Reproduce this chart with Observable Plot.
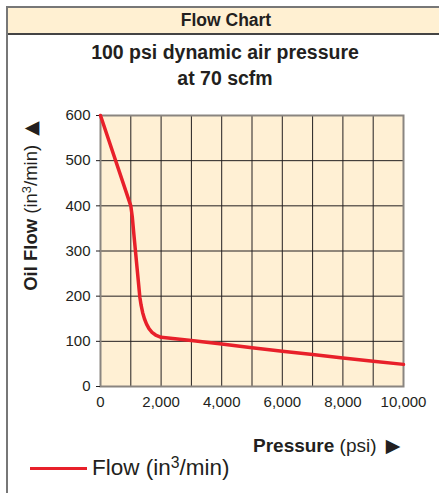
<!DOCTYPE html>
<html>
<head>
<meta charset="utf-8">
<script src="https://cdn.jsdelivr.net/npm/d3@7"></script>
<script src="https://cdn.jsdelivr.net/npm/@observablehq/plot@0.6"></script>
<style>
  html, body { margin: 0; padding: 0; background: #fff; }
  #wrap { position: relative; width: 439px; height: 493px; overflow: hidden; font-family: "Liberation Sans", Arial, Helvetica, sans-serif; color: #231f20; }
  #wrap svg { position: absolute; left: 0; top: 0; }
  .abs { position: absolute; white-space: nowrap; line-height: 1; }
  sup { font-size: 0.7em; vertical-align: 0.45em; line-height: 0; }
  .arr { font-family: "DejaVu Sans", sans-serif; margin-left: 4px; }
</style>
</head>
<body>
<div id="wrap">
  <div class="abs" style="left:6px;top:6px;width:2px;height:487px;background:#777;"></div>
  <div class="abs" style="left:8px;top:6px;width:431px;height:25px;background:#fff0d2;border-top:2px solid #777;border-bottom:2px solid #444;"></div>
  <div class="abs" id="hdr" style="left:0;width:452px;top:12px;text-align:center;font-weight:bold;font-size:17.5px;">Flow Chart</div>
  <div class="abs" id="t1" style="left:0;width:450px;top:43px;text-align:center;font-weight:bold;font-size:19.5px;">100 psi dynamic air pressure</div>
  <div class="abs" id="t2" style="left:0;width:450px;top:69px;text-align:center;font-weight:bold;font-size:19.5px;">at 70 scfm</div>
  <div class="abs" id="ylab" style="left:31px;top:206px;font-size:18.5px;transform:translate(-50%,-50%) rotate(-90deg);"><b>Oil Flow</b> (in<sup>3</sup>/min) <span class="arr" style="font-size:19px;">▲</span></div>
  <div class="abs" id="xlab" style="left:253px;top:436px;font-size:19px;"><b>Pressure</b> (psi) <span class="arr" style="font-size:19px;">▶</span></div>
  <div class="abs" style="left:30px;top:467px;width:57px;height:3px;background:#e8202a;"></div>
  <div class="abs" id="leg" style="left:92px;top:457px;font-size:22.5px;">Flow (in<sup>3</sup>/min)</div>
</div>
<script>
const pressure = [0, 1000, 1050, 1100, 1200, 1300, 1340, 1390, 1450, 1520, 1600, 1700, 1820, 2000, 3000, 4000, 5000, 6000, 7000, 8000, 9000, 10000];
const flow =     [600, 400, 375, 338, 267, 197, 180, 164, 150, 138, 128, 120, 114, 109, 102, 94, 86, 78, 71, 63, 56, 49];
const xTicks = [0, 2000, 4000, 6000, 8000, 10000];
const xGrid = [1000, 2000, 3000, 4000, 5000, 6000, 7000, 8000, 9000];
const yTicks = [0, 100, 200, 300, 400, 500, 600];
const yGrid = [100, 200, 300, 400, 500];

const data = pressure.map((p, i) => ({pressure: p, flow: flow[i]}));

const chart = Plot.plot({
  width: 439,
  height: 493,
  marginLeft: 100,
  marginRight: 36,
  marginTop: 115,
  marginBottom: 107,
  style: {background: "transparent", fontFamily: "'Liberation Sans', Arial, sans-serif", fontSize: "15px", color: "#231f20"},
  x: {domain: [0, 10000]},
  y: {domain: [0, 600]},
  marks: [
    Plot.frame({fill: "#fff0d4"}),
    Plot.gridX(xGrid, {stroke: "#231f20", strokeOpacity: 1, strokeWidth: 1}),
    Plot.gridY(yGrid, {stroke: "#231f20", strokeOpacity: 1, strokeWidth: 1}),
    Plot.frame({stroke: "#8a8580", strokeWidth: 2}),
    Plot.axisX(xTicks, {tickSize: 0, tickPadding: 10, tickFormat: d3.format(","), label: null}),
    Plot.axisY(yTicks, {tickSize: 4, tickPadding: 6, label: null, stroke: "#231f20"}),
    Plot.line(data, {x: "pressure", y: "flow", stroke: "#e8202a", strokeWidth: 3.5, strokeLinejoin: "round", curve: "linear"})
  ]
});
document.getElementById("wrap").prepend(chart);
</script>
</body>
</html>
